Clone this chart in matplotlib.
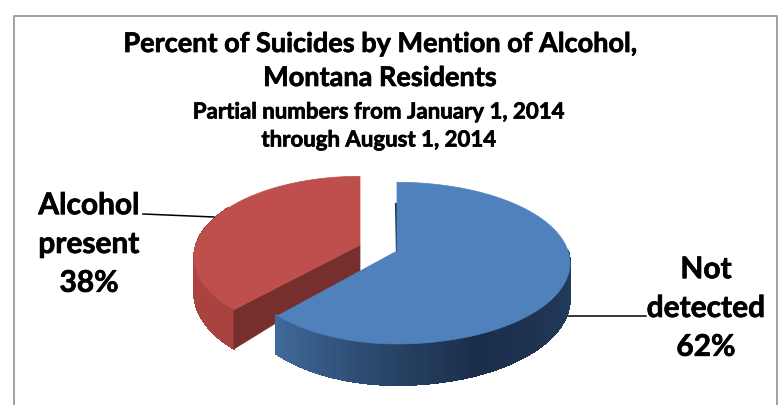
import numpy as np
import matplotlib
matplotlib.use('Agg')
import matplotlib.pyplot as plt
import matplotlib.patheffects as pe
from matplotlib.colors import to_rgb
from matplotlib.patches import Polygon

plt.rcParams['font.family'] = ['Lato', 'DejaVu Sans']

# values
categories = ['Not\ndetected', 'Alcohol\npresent']
shares = [62, 38]
title_lines = ['Percent of Suicides by Mention of Alcohol,', 'Montana Residents']
subtitle_lines = ['Partial numbers from January 1, 2014', 'through August 1, 2014']

# pie layout in pixels
RY, PERSP, DEPTH = 79, 0.15, 35
BLUE_C = (397, 252)
RED_C = (360, 246)
BLUE_RX = (155, 171)  # left, right
RED_RX = (164, 164)

# lato bold is a bit lighter than the original font
HEAVY = [pe.withStroke(linewidth=0.5, foreground='black')]


def project(angle, center, rx, drop=0.0):
    # angle in degrees, clockwise from 12 o'clock
    a = np.radians(angle)
    X, Y = np.sin(a), np.cos(a)
    w = 1 + PERSP * Y
    r = rx[0] if X < 0 else rx[1]
    return center[0] + r * X / w, center[1] - RY * Y / w + drop / w


def ramp(stops, t):
    pos = np.linspace(0, 1, len(stops))
    rgb = np.array([to_rgb(c) for c in stops])
    return tuple(np.interp(t, pos, rgb[:, i]) for i in range(3))


def top_face(start, end, center, rx, color, z):
    angs = np.linspace(start, end, 200)
    pts = [project(a, center, rx) for a in angs] + [center]
    ax.add_patch(Polygon(pts, closed=True, fc=color, ec=color, lw=0.5, zorder=z))


def outer_side(start, end, center, rx, stops, z):
    angs = np.arange(start, end + 1, 1.0)
    for a0, a1 in zip(angs[:-1], angs[1:]):
        col = ramp(stops, (a0 - start) / (end - start))
        q = [project(a0, center, rx), project(a1, center, rx),
             project(a1, center, rx, drop=DEPTH), project(a0, center, rx, drop=DEPTH)]
        ax.add_patch(Polygon(q, closed=True, fc=col, ec=col, lw=0.6, antialiased=False, zorder=z))


fig = plt.figure(figsize=(7.79, 4.06), dpi=100)
ax = fig.add_axes([0, 0, 1, 1])
ax.set_xlim(0, 779)
ax.set_ylim(406, 0)
ax.axis('off')

# chart frame, runs off the bottom of the picture
ax.plot([14, 14, 777, 777], [406, 16.5, 16.5, 406], color='#9a9a9a', lw=1.3, zorder=1)

blue_sweep = 360 * shares[0] / sum(shares)

# red slice, pulled out to the left
corner = project(blue_sweep, RED_C, RED_RX)
corner_low = project(blue_sweep, RED_C, RED_RX, drop=DEPTH)
apex_low = (RED_C[0], RED_C[1] + DEPTH * 0.75)
outer_side(blue_sweep, 300, RED_C, RED_RX, ['#a8423f', '#b04643'], 2)
ax.add_patch(Polygon([RED_C, corner, corner_low, apex_low], closed=True, fc='#772f2d', ec='#772f2d', lw=0.5, zorder=3))
top_face(blue_sweep, 360, RED_C, RED_RX, '#bf4f4c', 4)

# blue slice
outer_side(90, blue_sweep, BLUE_C, BLUE_RX, ['#243f60', '#1a2e49', '#40699a'], 5)
top_face(0, blue_sweep, BLUE_C, BLUE_RX, '#4f81bd', 6)
ax.plot([BLUE_C[0] - 1, BLUE_C[0]], [205, BLUE_C[1]], color='#1f3a5c', lw=1.6, zorder=5)

# leader lines
ax.plot([143, 214], [215, 218], color='black', lw=1.1, zorder=7)
ax.plot([563, 646], [317, 317], color='black', lw=1.1, zorder=1)

# titles
for txt, y in zip(title_lines, [45, 79]):
    ax.text(380, y, txt, ha='center', va='center', fontsize=19.5, fontweight='bold',
            color='black', path_effects=HEAVY)
for txt, y in zip(subtitle_lines, [113, 141]):
    ax.text(379, y, txt, ha='center', va='center', fontsize=16, fontweight='bold',
            color='black', path_effects=HEAVY)

# data labels
ax.text(706, 309, f'{categories[0]}\n{shares[0]}%', ha='center', va='center', fontsize=21.5,
        fontweight='bold', linespacing=1.47, color='black', path_effects=HEAVY)
ax.text(89, 245, f'{categories[1]}\n{shares[1]}%', ha='center', va='center', fontsize=21.5,
        fontweight='bold', linespacing=1.47, color='black', path_effects=HEAVY)

fig.savefig('out.png', dpi=100)
